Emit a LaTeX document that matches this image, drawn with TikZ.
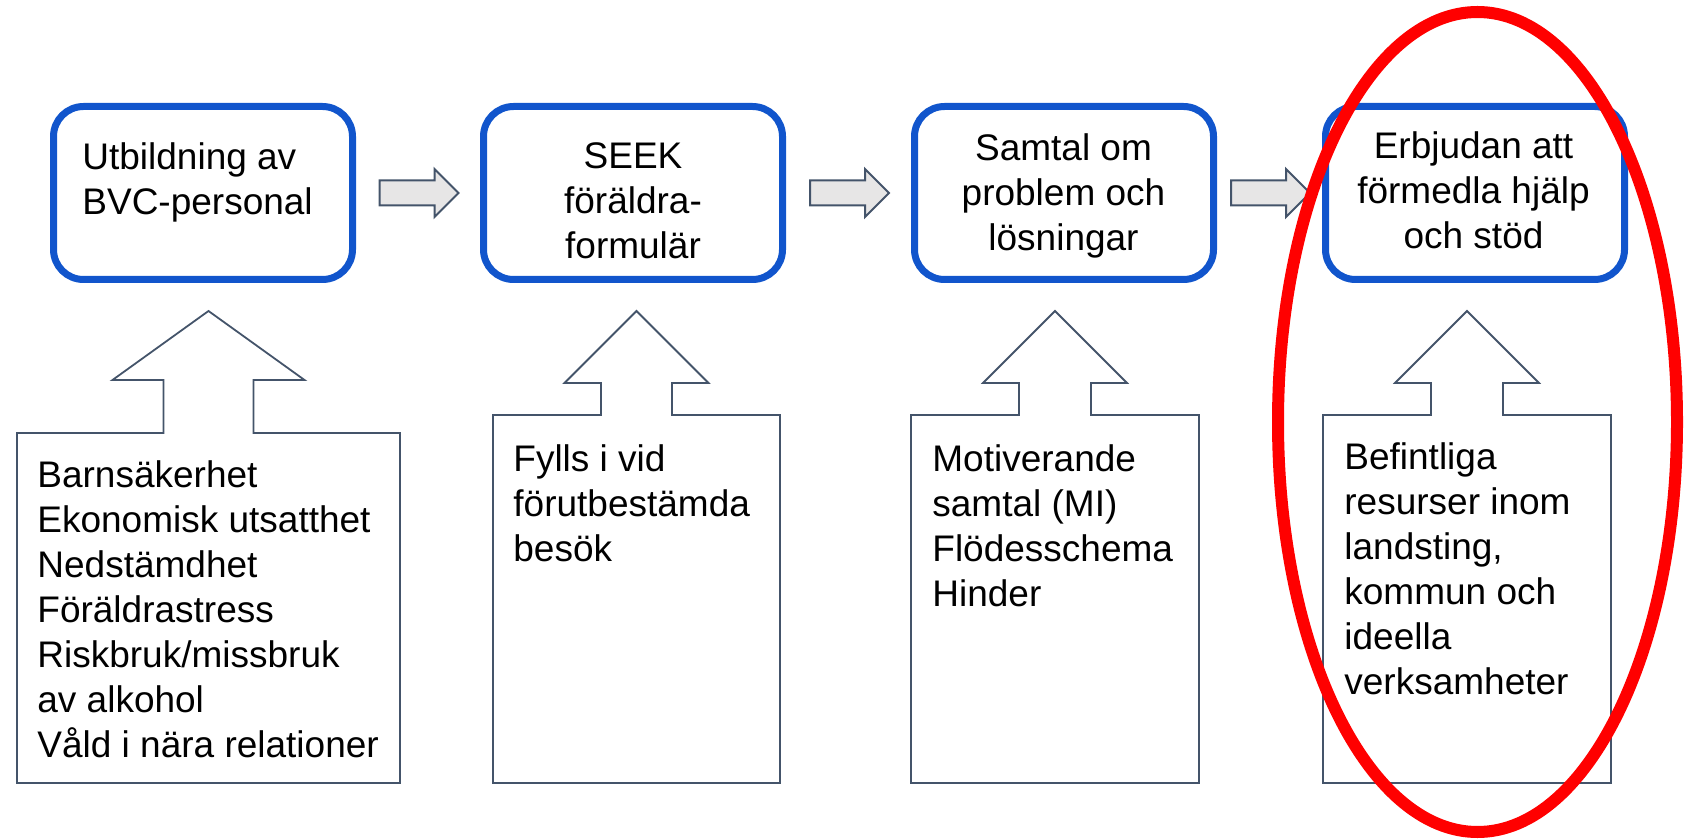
\documentclass[tikz,border=0pt]{standalone}
\usepackage{fontspec}
\setmainfont{Liberation Sans}
\usetikzlibrary{positioning,calc,shapes.arrows}
\definecolor{boxblue}{RGB}{17,85,204}
\definecolor{slate}{RGB}{68,84,106}
\definecolor{arrowgray}{RGB}{231,230,230}

\begin{document}
\begin{tikzpicture}
[
    x = 0.5pt, y = -0.5pt,
    every node/.append style = {font = \fontsize{18.5}{22.5}\selectfont},
    stagebox/.style = {draw = boxblue, line width = 3.5pt, rounded corners = 15pt, minimum width = 149.5pt, minimum height = 86.5pt, inner sep = 0},
    stagetext/.style = {inner sep = 0, align = center, anchor = base},
    notetext/.style = {inner sep = 0, align = left, anchor = base west},
    notebox/.style = {draw = slate, line width = 0.9pt},
    flowarrow/.style = {single arrow, draw = slate, fill = arrowgray, line width = 1pt, inner xsep = 0, inner ysep = 5.75pt, single arrow head extend = 5.75pt, minimum height = 39.5pt, anchor = tail},
    focus/.style = {draw = red, line width = 6pt}]

\useasboundingbox (0,0) rectangle (1686,839);

\node [stagebox] (s1) at (203,193) {};
\node [stagebox, right = 62pt of s1] (s2) {};
\node [stagebox, right = 62.5pt of s2] (s3) {};
\node [stagebox, right = 52.5pt of s3] (s4) {};

\node [notetext] (t1) at (82,215) {Utbildning av\\BVC-personal};
\node [stagetext] (t2) at (633,259) {SEEK\\föräldra-\\formulär};
\node [stagetext] (t3) at (1063.5,251) {Samtal om\\problem och\\lösningar};
\node [stagetext] (t4) at (1473.5,249) {Erbjudan att\\förmedla hjälp\\och stöd};

\node [flowarrow] (a1) at ($(s1.east)!0.5!(s2.west)+(-39.5,0)$) {};
\node [flowarrow] (a2) at ($(s2.east)!0.5!(s3.west)+(-39.5,0)$) {};
\node [flowarrow] (a3) at ($(s3.east)!0.5!(s4.west)+(-39.5,0)$) {};

\foreach \cx/\hh/\sh/\hb/\bw/\bt in {208.5/96/45/380/191.5/433, 636.5/72/35.5/383/143.5/415, 1055/72/36/383/144/415, 1467/72/36/383/144/415}
    \draw [notebox] (\cx,311) -- (\cx+\hh,\hb) -- (\cx+\sh,\hb) -- (\cx+\sh,\bt) -- (\cx+\bw,\bt) -- (\cx+\bw,783)
        -- (\cx-\bw,783) -- (\cx-\bw,\bt) -- (\cx-\sh,\bt) -- (\cx-\sh,\hb) -- (\cx-\hh,\hb) -- cycle;

\node [notetext] (n1) at (37,757) {Barnsäkerhet\\Ekonomisk utsatthet\\Nedstämdhet\\Föräldrastress\\Riskbruk/missbruk\\av alkohol\\Våld i nära relationer};
\node [notetext] (n2) at (513,561) {Fylls i vid\\förutbestämda\\besök};
\node [notetext] (n3) at (932,606) {Motiverande\\samtal (MI)\\Flödesschema\\Hinder};
\node [notetext] (n4) at (1344,694) {Befintliga\\resurser inom\\landsting,\\kommun och\\ideella\\verksamheter};

\draw [focus] (1477.5,422) ellipse [x radius = 199.5, y radius = 410];

\end{tikzpicture}
\end{document}
